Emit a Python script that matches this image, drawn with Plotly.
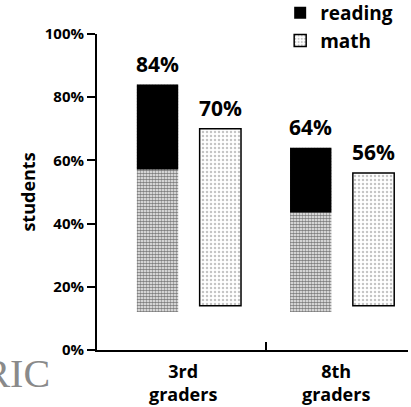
import plotly.graph_objects as go

# data
grades = ["3rd<br>graders", "8th<br>graders"]
reading = [84, 64]
math = [70, 56]
y_ticks = [0, 20, 40, 60, 80, 100]

FONT = "Open Sans"
BAR_W = 0.27
READ_OFF = -0.34
MATH_OFF = 0.07
FADE_BASE = 12      # speckled fill fades out near the bottom
SOLID_FRAC = 0.68   # reading bars are solid black only in the upper part

x = list(range(len(grades)))

fig = go.Figure()

# speckled lower part of reading bars
fig.add_trace(go.Bar(
    x=x, y=[v - FADE_BASE for v in reading], base=FADE_BASE,
    width=BAR_W, offset=READ_OFF,
    marker=dict(color="white", line=dict(width=0),
                pattern=dict(shape=".", fgcolor="black", bgcolor="white",
                             size=3, solidity=0.65)),
    showlegend=False, hoverinfo="skip",
))

# solid black upper part of reading bars
fig.add_trace(go.Bar(
    x=x, y=[v * (1 - SOLID_FRAC) for v in reading],
    base=[v * SOLID_FRAC for v in reading],
    width=BAR_W, offset=READ_OFF,
    marker=dict(color="black", line=dict(width=0)),
    name="reading",
))

# math bars: outlined with light grey speckle
fig.add_trace(go.Bar(
    x=x, y=[v - FADE_BASE - 2 for v in math], base=FADE_BASE + 2,
    width=BAR_W, offset=MATH_OFF,
    marker=dict(color="white", line=dict(color="black", width=1.5),
                pattern=dict(shape=".", fgcolor="#8a8a8a", bgcolor="white",
                             size=4, solidity=0.3)),
    name="math",
))

# value labels above the bars
for i in x:
    for vals, off in ((reading, READ_OFF), (math, MATH_OFF)):
        fig.add_annotation(
            x=i + off + BAR_W / 2, y=vals[i], text=f"{vals[i]}%",
            showarrow=False, yanchor="bottom", yshift=5,
            font=dict(family=FONT, size=21, color="black", weight="bold"),
        )

# category labels under the axis
for i in x:
    fig.add_annotation(
        x=i - 0.04, y=0, text=grades[i], showarrow=False,
        yanchor="top", yshift=-7,
        font=dict(family=FONT, size=18, color="black", weight="bold"),
    )

# faint ERIC watermark, cut off at the left edge
fig.add_annotation(
    x=-0.145, y=-0.073, xref="paper", yref="paper", text="ERIC",
    showarrow=False, xanchor="right", yanchor="middle",
    font=dict(family="Liberation Serif", size=40, color="#8a8a8a"),
)

fig.update_layout(
    width=411, height=407,
    margin=dict(l=97, r=3, t=34, b=57, autoexpand=False),
    paper_bgcolor="white", plot_bgcolor="white",
    barmode="overlay",
    font=dict(family=FONT, color="black"),
    legend=dict(
        x=0.589, y=1.127, xanchor="left", yanchor="top",
        font=dict(family=FONT, size=19, color="black", weight="bold"),
        bgcolor="rgba(0,0,0,0)", tracegroupgap=0, itemwidth=30,
    ),
    xaxis=dict(
        range=[-0.6, 1.43], tickmode="array", tickvals=x,
        ticktext=["", ""], ticks="", showgrid=False, zeroline=False,
        showline=True, linecolor="black", linewidth=2,
        minor=dict(tickmode="array", tickvals=[0.5], ticks="inside",
                   ticklen=8, tickwidth=2, tickcolor="black"),
    ),
    yaxis=dict(
        range=[0, 100], tickvals=y_ticks,
        ticktext=[f"{t}%" for t in y_ticks],
        ticks="outside", ticklen=8, tickwidth=1.5, tickcolor="black",
        showgrid=False, zeroline=False,
        showline=True, linecolor="black", linewidth=2,
        tickfont=dict(family=FONT, size=15, color="black", weight="bold"),
        title=dict(text="students", standoff=4,
                   font=dict(family=FONT, size=18, color="black", weight="bold")),
    ),
)

# drop the default page margin so the figure fills the window exactly
fig.write_html("out.html", config={"displayModeBar": False},
               post_script="document.body.style.margin='0';")
